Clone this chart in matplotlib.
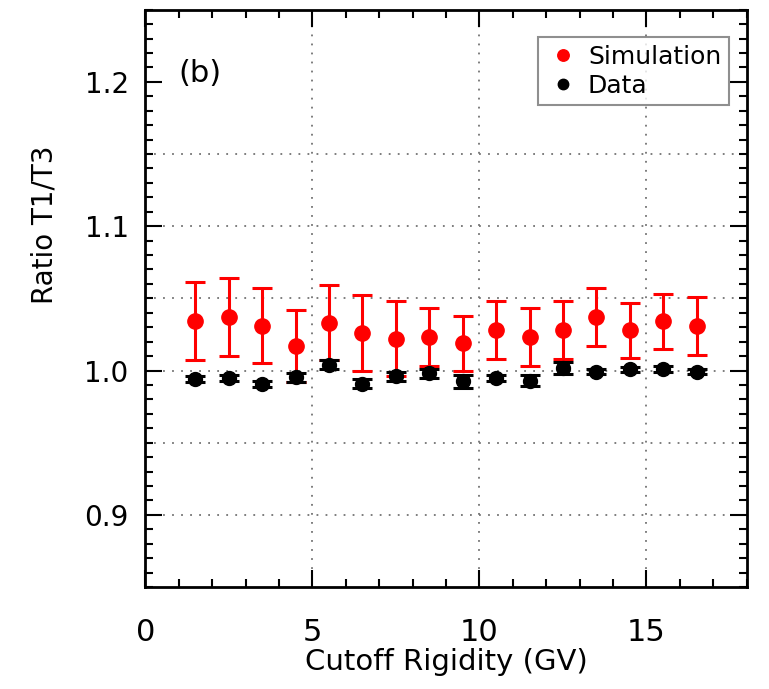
import numpy as np
import matplotlib.pyplot as plt
from matplotlib.ticker import MultipleLocator

# Cutoff rigidity bins (GV)
rigidity = [1.5, 2.5, 3.5, 4.5, 5.5, 6.5, 7.5, 8.5, 9.5, 10.5, 11.5, 12.5, 13.5, 14.5, 15.5, 16.5]

# Simulation ratio T1/T3 with errors
sim_ratio = [1.034, 1.037, 1.031, 1.017, 1.033, 1.026, 1.022, 1.023, 1.019, 1.028, 1.023, 1.028, 1.037, 1.028, 1.034, 1.031]
sim_err = [0.027, 0.027, 0.026, 0.025, 0.026, 0.026, 0.026, 0.020, 0.019, 0.020, 0.020, 0.020, 0.020, 0.019, 0.019, 0.020]

# Measured ratio
data_ratio = [0.994, 0.995, 0.9905, 0.9953, 1.004, 0.991, 0.996, 0.998, 0.9924, 0.9947, 0.993, 1.0016, 0.9993, 1.0007, 1.0009, 0.9993]
data_err = [0.002, 0.002, 0.002, 0.003, 0.003, 0.003, 0.003, 0.003, 0.0045, 0.002, 0.004, 0.004, 0.002, 0.002, 0.002, 0.002]

grid_x = [5, 10, 15]
grid_y = [0.90, 0.95, 1.00, 1.05, 1.10, 1.15]

fig = plt.figure(figsize=(7.69, 6.89), dpi=100)
ax = fig.add_axes([0.189, 0.148, 0.782, 0.838])

# dotted grid like the IDL plot
for gx in grid_x:
    ax.axvline(gx, color='0.45', linestyle=(0, (1, 4)), linewidth=1.3, zorder=0)
for gy in grid_y:
    ax.axhline(gy, color='0.45', linestyle=(0, (1, 4)), linewidth=1.3, zorder=0)

ax.errorbar(rigidity, sim_ratio, yerr=sim_err, fmt='o', color='red', ecolor='red',
            markersize=11, elinewidth=2.2, capsize=7, capthick=2.2, label='Simulation', zorder=3)
ax.errorbar(rigidity, data_ratio, yerr=data_err, fmt='o', color='black', ecolor='black',
            markersize=10, elinewidth=2.2, capsize=7, capthick=2.2, label='Data', zorder=4)

ax.set_xlim(0, 18)
ax.set_ylim(0.85, 1.25)
ax.xaxis.set_major_locator(MultipleLocator(5))
ax.xaxis.set_minor_locator(MultipleLocator(1))
ax.yaxis.set_major_locator(MultipleLocator(0.1))
ax.yaxis.set_minor_locator(MultipleLocator(0.01))
ax.yaxis.set_major_formatter(plt.FuncFormatter(lambda v, p: f'{v:.1f}'))

ax.tick_params(which='both', direction='in', top=True, right=True, width=1.5)
ax.tick_params(which='major', length=12)
ax.tick_params(which='minor', length=6)
ax.tick_params(axis='x', which='major', labelsize=22, pad=22)
ax.tick_params(axis='y', which='major', labelsize=20, pad=12)
for s in ax.spines.values():
    s.set_linewidth(2)

ax.set_xlabel('Cutoff Rigidity (GV)', fontsize=21, labelpad=1)
ax.set_ylabel('Ratio T1/T3', fontsize=20)
ax.yaxis.set_label_coords(-0.145, 0.627)

ax.text(0.055, 0.89, '(b)', transform=ax.transAxes, fontsize=22, va='center')

h, l = ax.get_legend_handles_labels()
h = [hh[0] for hh in h]
leg = ax.legend(h, l, loc='upper right', bbox_to_anchor=(0.97, 0.952), fontsize=18,
                handletextpad=0.3, handlelength=1.4, borderpad=0.3, labelspacing=0.2,
                fancybox=False, edgecolor='0.45', markerscale=0.75, borderaxespad=0)
leg.get_frame().set_linewidth(1.5)

fig.savefig('out.png', dpi=100)
